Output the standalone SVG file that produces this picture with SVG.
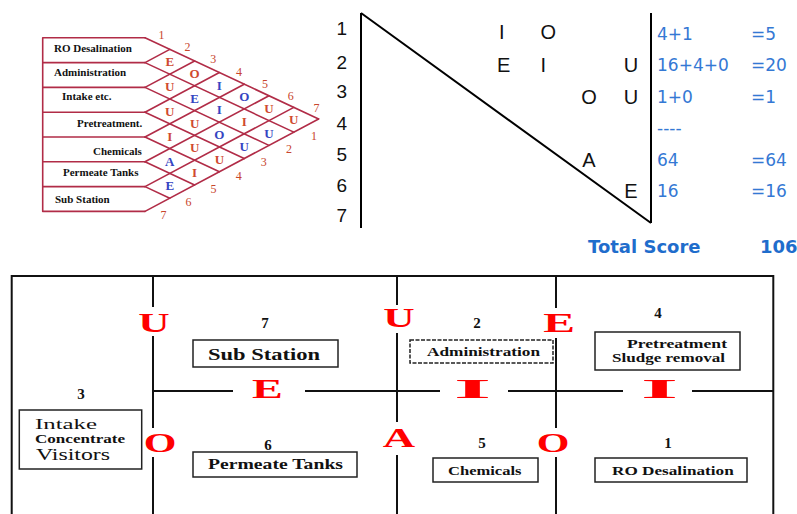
<svg xmlns="http://www.w3.org/2000/svg" width="797" height="514" viewBox="0 0 797 514">
<style>
.cl{stroke:#b12c47;stroke-width:1.6;fill:none;stroke-linecap:round}
.rl{font-family:"Liberation Serif",serif;font-weight:bold;font-size:11px;fill:#111}
.dn{font-family:"Liberation Serif",serif;font-size:12px;fill:#c8452c;text-anchor:middle}
.dr{font-family:"Liberation Serif",serif;font-weight:bold;font-size:13px;fill:#cf4a30;text-anchor:middle}
.db{font-family:"Liberation Serif",serif;font-weight:bold;font-size:13px;fill:#3545c2;text-anchor:middle}
.bk{stroke:#000;stroke-width:2;fill:none}
.tl{font-family:"Liberation Sans",Arial,sans-serif;font-size:20px;fill:#111;text-anchor:middle}
.tn{font-family:"Liberation Sans",Arial,sans-serif;font-size:19px;fill:#111;text-anchor:middle}
.bl{font-family:"DejaVu Sans",Verdana,sans-serif;font-size:17px;fill:#3478d4}
.ts{font-family:"DejaVu Sans",Verdana,sans-serif;font-size:18px;font-weight:bold;fill:#1f6dcc}
.ln{stroke:#111;stroke-width:2;fill:none}
.bx{stroke:#222;stroke-width:1.5;fill:#fff}
.bt{font-family:"Liberation Serif",serif;font-weight:bold;fill:#111}
.bn{font-family:"Liberation Serif",serif;font-weight:bold;font-size:15px;fill:#111;text-anchor:middle}
.big{font-family:"Liberation Serif",serif;font-weight:bold;font-size:28px;fill:#f00;text-anchor:middle}
.nw{font-weight:normal}
</style>
<rect width="797" height="514" fill="#fff"/>

<!-- Relationship chart -->
<g id="relchart-connectors">
<path class="cl" d="M42.7,37.8V211.4 M42.7,37.8H145 M42.7,62.6H145 M42.7,87.4H145 M42.7,112.2H145 M42.7,137H145 M42.7,161.8H145 M42.7,186.6H145 M42.7,211.4H145"/>
<path class="cl" d="M145,37.8L318.6,118.94 M145,62.6L293.8,132.15 M145,87.4L269,145.36 M145,112.2L244.2,158.57 M145,137L219.4,171.77 M145,161.8L194.6,184.98 M145,186.6L169.8,198.19"/>
<path class="cl" d="M145,62.6L169.8,49.39 M145,87.4L194.6,60.98 M145,112.2L219.4,72.57 M145,137L244.2,84.17 M145,161.8L269,95.76 M145,186.6L293.8,107.35 M145,211.4L318.6,118.94"/>
</g>
<g id="row-labels">
<text class="rl" x="54" y="52">RO Desalination</text>
<text class="rl" x="54" y="76">Administration</text>
<text class="rl" x="62" y="100">Intake etc.</text>
<text class="rl" x="77" y="127">Pretreatment.</text>
<text class="rl" x="93" y="155">Chemicals</text>
<text class="rl" x="63" y="176">Permeate Tanks</text>
<text class="rl" x="55" y="203">Sub Station</text>
</g>
<g id="chart-numbers">
<text class="dn" x="161.5" y="39">1</text>
<text class="dn" x="187.4" y="51.2">2</text>
<text class="dn" x="213.2" y="63.4">3</text>
<text class="dn" x="239.1" y="75.6">4</text>
<text class="dn" x="264.9" y="87.8">5</text>
<text class="dn" x="290.8" y="100">6</text>
<text class="dn" x="316.6" y="112.2">7</text>
<text class="dn" x="314" y="140">1</text>
<text class="dn" x="288.9" y="153.2">2</text>
<text class="dn" x="263.8" y="166.4">3</text>
<text class="dn" x="238.7" y="179.6">4</text>
<text class="dn" x="213.6" y="192.8">5</text>
<text class="dn" x="188.5" y="206">6</text>
<text class="dn" x="163.4" y="219.2">7</text>
</g>
<g id="chart-ratings">
<text class="dr" x="169.8" y="66.3">E</text>
<text class="dr" x="169.8" y="91.1">U</text>
<text class="dr" x="169.8" y="115.9">U</text>
<text class="dr" x="169.8" y="140.7">I</text>
<text class="db" x="169.8" y="165.5">A</text>
<text class="db" x="169.8" y="190.3">E</text>
<text class="dr" x="194.6" y="77.9">O</text>
<text class="db" x="194.6" y="102.7">E</text>
<text class="dr" x="194.6" y="127.5">U</text>
<text class="dr" x="194.6" y="152.3">U</text>
<text class="dr" x="194.6" y="177.1">I</text>
<text class="db" x="219.4" y="89.5">I</text>
<text class="db" x="219.4" y="114.3">I</text>
<text class="db" x="219.4" y="139.1">O</text>
<text class="dr" x="219.4" y="163.9">U</text>
<text class="db" x="244.2" y="101.1">O</text>
<text class="dr" x="244.2" y="125.9">I</text>
<text class="db" x="244.2" y="150.7">U</text>
<text class="dr" x="269" y="112.7">U</text>
<text class="db" x="269" y="137.5">U</text>
<text class="dr" x="293.8" y="124.2">U</text>
</g>

<!-- Triangle score matrix -->
<g id="triangle">
<path class="bk" d="M361,13V228 M361,13L651,223 M651,13V223"/>
<text class="tn" x="341.7" y="35">1</text>
<text class="tn" x="341.7" y="68.5">2</text>
<text class="tn" x="341.7" y="97.5">3</text>
<text class="tn" x="341.7" y="130">4</text>
<text class="tn" x="341.7" y="161">5</text>
<text class="tn" x="341.7" y="192">6</text>
<text class="tn" x="341.7" y="222">7</text>
<text class="tl" x="501.7" y="39">I</text>
<text class="tl" x="548.3" y="39">O</text>
<text class="tl" x="503.7" y="72">E</text>
<text class="tl" x="543.3" y="72">I</text>
<text class="tl" x="631" y="72">U</text>
<text class="tl" x="589" y="104">O</text>
<text class="tl" x="631" y="104">U</text>
<text class="tl" x="589" y="166.5">A</text>
<text class="tl" x="631" y="198">E</text>
</g>
<g id="scores">
<text class="bl" x="657" y="39.5">4+1</text>
<text class="bl" x="751" y="39.5">=5</text>
<text class="bl" x="657" y="71">16+4+0</text>
<text class="bl" x="751" y="71">=20</text>
<text class="bl" x="657" y="102.7">1+0</text>
<text class="bl" x="751" y="102.7">=1</text>
<text class="bl" x="657" y="134">----</text>
<text class="bl" x="657" y="166">64</text>
<text class="bl" x="751" y="166">=64</text>
<text class="bl" x="657" y="197">16</text>
<text class="bl" x="751" y="197">=16</text>
<text class="ts" x="588" y="253">Total Score</text>
<text class="ts" x="760" y="253">106</text>
</g>

<!-- Block layout -->
<g id="layout-connectors">
<path class="ln" d="M11.7,514V276H773.3V514"/>
<path class="ln" d="M153,276V307 M153,336V428 M153,457V514"/>
<path class="ln" d="M397,276V305 M397,333V422 M397,455V514"/>
<path class="ln" d="M556,276V308 M556,338V428 M556,457V514"/>
<path class="ln" d="M153,391H233 M305,391H440 M508,391H623 M692,391H773"/>
</g>
<g id="ratings-layout">
<text class="big" transform="translate(154,332) scale(1.55,1)">U</text>
<text class="big" transform="translate(160,452) scale(1.5,1)">O</text>
<text class="big" transform="translate(267.5,398) scale(1.65,1)">E</text>
<text class="big" transform="translate(399,327) scale(1.55,1)">U</text>
<text class="big" transform="translate(399,447) scale(1.6,1)">A</text>
<text class="big" transform="translate(472.5,398) scale(3.4,1)">I</text>
<text class="big" transform="translate(559,332) scale(1.7,1)">E</text>
<text class="big" transform="translate(553,452) scale(1.5,1)">O</text>
<text class="big" transform="translate(659.5,398) scale(3.4,1)">I</text>
</g>
<g id="node-7">
<text class="bn" x="265" y="328">7</text>
<rect class="bx" x="193" y="340" width="145" height="27"/>
<text class="bt" font-size="17" x="208" y="360" textLength="112" lengthAdjust="spacingAndGlyphs">Sub Station</text>
</g>
<g id="node-2">
<text class="bn" x="477" y="328">2</text>
<rect class="bx" x="410" y="340" width="143" height="23" stroke-dasharray="4 1.5"/>
<text class="bt" font-size="13" x="427" y="355.7" textLength="113" lengthAdjust="spacingAndGlyphs">Administration</text>
</g>
<g id="node-4">
<text class="bn" x="658" y="318">4</text>
<rect class="bx" x="595" y="332" width="145" height="38"/>
<text class="bt" font-size="13" x="627" y="348" textLength="100" lengthAdjust="spacingAndGlyphs">Pretreatment</text>
<text class="bt" font-size="13" x="612" y="362" textLength="113" lengthAdjust="spacingAndGlyphs">Sludge removal</text>
</g>
<g id="node-3">
<text class="bn" x="81" y="399">3</text>
<rect class="bx" x="19.3" y="410" width="122.4" height="59"/>
<text class="bt nw" font-size="15" x="35" y="429" textLength="62" lengthAdjust="spacingAndGlyphs">Intake</text>
<text class="bt" font-size="11.5" x="35" y="443" textLength="90" lengthAdjust="spacingAndGlyphs">Concentrate</text>
<text class="bt nw" font-size="16" x="36" y="460" textLength="74" lengthAdjust="spacingAndGlyphs">Visitors</text>
</g>
<g id="node-6">
<text class="bn" x="268" y="450">6</text>
<rect class="bx" x="193" y="452" width="164" height="25"/>
<text class="bt" font-size="15" x="208" y="469" textLength="135" lengthAdjust="spacingAndGlyphs">Permeate Tanks</text>
</g>
<g id="node-5">
<text class="bn" x="482" y="448">5</text>
<rect class="bx" x="433" y="458" width="105" height="24"/>
<text class="bt" font-size="13" x="448" y="475" textLength="73.5" lengthAdjust="spacingAndGlyphs">Chemicals</text>
</g>
<g id="node-1">
<text class="bn" x="668" y="448">1</text>
<rect class="bx" x="595" y="458" width="152" height="24"/>
<text class="bt" font-size="13" x="612" y="475" textLength="121.7" lengthAdjust="spacingAndGlyphs">RO Desalination</text>
</g>
</svg>
